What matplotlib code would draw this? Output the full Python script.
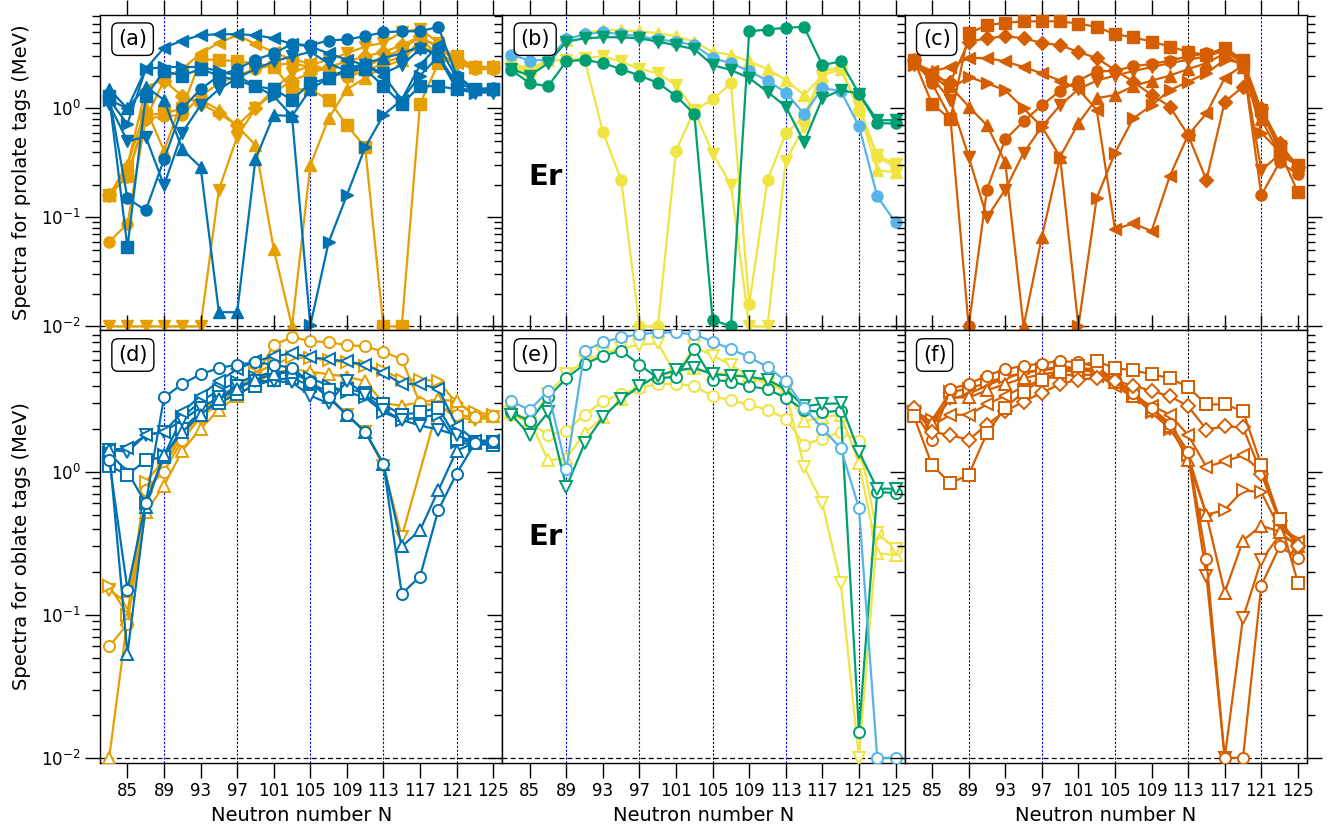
import numpy as np
import matplotlib
matplotlib.use("Agg")
import matplotlib.pyplot as plt
from matplotlib.ticker import LogLocator, NullFormatter

# ---------------- data ----------------
N = list(range(83, 126, 2))
xtick_vals = [85, 89, 93, 97, 101, 105, 109, 113, 117, 121, 125]
vlines = [89, 97, 105, 113, 121]
black_vline = {"a": 97, "b": 105, "c": 113}
nan = float("nan")

# panel (a): prolate tags, blue and orange groups
a_blue_o = [1.3, 0.15, 0.116, 0.34, 1.0, 1.5, 2.0, 2.3, 2.8, 3.2, 3.9, 3.8, 4.2, 4.3, 4.6, 5.0, 5.1, 5.1, 5.6, 2.0, 1.5, 1.55]
a_blue_lt = [1.2, 1.0, 2.3, 3.6, 4.2, 4.7, 4.8, 4.8, 4.7, 4.4, 3.9, 3.7, 3.2, 2.8, 2.5, 2.0, 1.2, 2.5, 3.8, 1.9, 1.5, 1.5]
a_blue_up = [1.5, 1.0, 1.58, 1.2, 0.42, 0.29, 0.0135, 0.0135, 0.34, 0.87, 0.85, 1.5, 1.9, 2.3, 2.6, 2.9, 3.2, 3.7, 3.0, 1.7, 1.5, 1.5]
a_blue_rt = [1.2, 0.72, 2.3, 2.4, 2.4, 2.4, 2.2, 2.0, 1.6, 1.3, 0.85, 0.0102, 0.059, 0.16, 0.44, 0.87, 1.2, 2.0, 3.0, 1.5, 1.4, 1.5]
a_blue_dn = [1.1, 0.5, 0.55, 0.197, 0.6, 1.07, 1.5, 1.9, 2.3, 2.7, 3.0, 3.3, 2.6, 2.2, 2.5, 2.1, 2.5, 3.5, 3.2, 1.5, 1.4, 1.4]
a_blue_s = [1.3, 0.053, 1.3, 2.2, 2.0, 2.3, 2.0, 1.8, 1.6, 1.5, 1.2, 1.7, 1.9, 2.2, 2.3, 1.6, 1.1, 1.6, 1.6, 1.5, 1.5, 1.5]
a_orng_dn = [0.01, 0.01, 0.01, 0.01, 0.01, 0.01, 0.18, 0.55, 1.0, 1.5, 2.1, 2.5, 2.8, 3.2, 3.7, 4.0, 5.0, 5.4, 4.0, 2.8, 2.3, 2.3]
a_orng_lt = [0.16, 0.3, 1.5, 1.9, 2.3, 3.2, 4.0, 4.7, 3.9, 3.3, 2.8, 2.6, 2.2, 2.0, 2.4, 2.9, 3.5, 4.5, 3.0, 2.6, 2.4, 2.4]
a_orng_s = [0.16, 0.24, 0.87, 0.9, 1.0, 2.8, 2.8, 2.7, 2.6, 2.4, 1.5, 1.5, 1.2, 0.7, 0.44, 0.01, 0.01, 1.1, 2.6, 3.0, 2.4, 2.4]
a_orng_up = [0.16, 0.3, 1.0, 0.41, 1.2, 1.2, 0.97, 0.69, 0.46, 0.051, 0.01, 0.30, 0.81, 1.5, 1.9, 2.4, 2.8, 4.2, 3.9, 2.8, 2.4, 2.4]
a_orng_o = [0.06, 0.087, 0.8, 0.85, 0.87, 1.3, 1.7, 2.0, 2.3, 2.5, 2.6, 2.4, 2.2, 1.95, 2.2, 2.6, 3.0, 3.7, 3.2, 2.6, 2.3, 2.3]
a_orng_D = [0.16, 0.24, 0.8, 1.8, 1.3, 1.1, 0.9, 0.7, 1.0, 1.4, 1.8, 2.1, 2.4, 2.7, 3.0, 3.3, 3.8, 4.6, 3.6, 2.7, 2.4, 2.4]

# panel (b): prolate tags, green / sky blue / yellow groups
b_green_o = [2.25, 1.7, 1.6, 2.7, 2.8, 2.6, 2.3, 2.0, 1.72, 1.3, 0.89, 0.0115, 0.01, 5.1, 5.3, 5.5, 5.6, 2.5, 2.7, 1.37, 0.73, 0.73]
b_green_dn = [2.3, 2.0, 2.6, 4.1, 4.4, 4.5, 4.5, 4.4, 4.1, 3.8, 3.5, 2.5, 2.25, 1.9, 1.42, 1.04, 0.49, 1.24, 1.47, 1.37, 0.78, 0.78]
b_sky_o = [3.1, 2.75, 2.8, 4.3, 4.8, 5.0, 4.8, 4.6, 4.3, 4.1, 3.8, 2.9, 2.6, 2.2, 1.8, 1.4, 0.89, 1.53, 1.45, 0.69, 0.156, 0.09]
b_yel_up = [2.6, 2.3, 2.8, 4.25, 4.9, 5.3, 5.2, 5.1, 4.9, 4.6, 4.1, 3.3, 3.1, 2.7, 2.3, 1.82, 1.33, 2.0, 2.3, 0.97, 0.27, 0.26]
b_yel_dn = [2.5, 2.2, 2.8, 2.8, 2.9, 3.0, 2.7, 2.3, 2.1, 1.64, 0.96, 0.385, 0.2, 0.01, 0.01, 0.33, 0.68, 2.25, 2.3, 1.04, 0.37, 0.31]
b_yel_o = [2.4, 2.1, 2.8, 2.7, 2.8, 0.61, 0.22, 0.01, 0.01, 0.41, 0.96, 1.21, 1.7, 0.016, 0.22, 0.59, 0.84, 2.2, 2.4, 0.97, 0.36, 0.29]

# panel (c): prolate tags, vermillion group
c_s = [2.8, 1.1, 0.8, 4.9, 5.8, 6.1, 6.3, 6.3, 6.3, 6.0, 5.6, 4.8, 4.5, 4.1, 3.7, 3.3, 3.1, 3.6, 2.8, 0.97, 0.41, 0.17]
c_D = [2.8, 1.95, 1.76, 4.1, 4.4, 4.6, 4.4, 4.0, 3.8, 3.3, 2.9, 2.25, 1.76, 1.33, 1.04, 0.57, 0.22, 1.15, 1.58, 1.0, 0.48, 0.29]
c_o = [2.8, 1.7, 0.82, 0.01, 0.18, 0.52, 0.76, 1.07, 1.45, 1.8, 2.2, 2.2, 2.45, 2.55, 2.75, 3.0, 3.2, 3.5, 2.7, 0.16, 0.32, 0.25]
c_up = [2.6, 2.2, 1.6, 1.04, 0.70, 0.32, 0.01, 0.066, 0.36, 0.73, 1.24, 1.33, 1.6, 1.8, 2.0, 2.3, 2.6, 3.2, 2.4, 0.8, 0.38, 0.3]
c_dn = [2.5, 1.9, 1.2, 0.36, 0.10, 0.18, 0.39, 0.68, 1.07, 1.5, 1.8, 2.0, 2.2, 2.4, 2.6, 2.8, 3.0, 3.4, 2.6, 0.27, 0.38, 0.3]
c_lt = [2.6, 2.2, 2.4, 2.9, 2.9, 2.7, 2.4, 2.1, 1.8, 1.5, 0.97, 0.078, 0.088, 0.075, 0.24, 0.57, 0.9, 1.9, 2.5, 0.9, 0.45, 0.3]
c_rt = [2.5, 2.0, 1.5, 1.95, 1.7, 1.47, 1.0, 0.68, 0.36, 0.01, 0.15, 0.39, 0.81, 1.07, 1.47, 1.76, 2.1, 2.8, 2.6, 0.6, 0.4, 0.3]

# panel (d): oblate tags, blue and orange groups
d_blue_o = [1.21, 0.15, 0.6, 3.3, 4.1, 4.8, 5.3, 5.6, 5.8, 5.6, 5.3, 4.2, 3.3, 2.5, 1.9, 1.13, 0.14, 0.185, 0.54, 0.97, 1.58, 1.63]
d_blue_up = [1.42, 0.053, 0.57, 1.3, 1.9, 2.5, 3.2, 3.8, 4.4, 4.8, 5.0, 4.2, 3.3, 2.5, 1.9, 1.13, 0.30, 0.39, 0.74, 1.4, 1.6, 1.6]
d_blue_lt = [1.42, 1.46, 1.8, 1.9, 2.6, 3.4, 4.3, 5.2, 5.9, 6.4, 6.7, 6.3, 6.1, 5.9, 5.6, 4.9, 4.1, 4.1, 3.8, 2.1, 1.65, 1.65]
d_blue_dn = [1.42, 1.38, 1.8, 1.9, 2.3, 2.8, 3.3, 3.96, 4.3, 4.3, 4.2, 3.4, 3.0, 4.3, 3.46, 2.7, 2.3, 2.1, 1.97, 1.8, 1.6, 1.6]
d_blue_s = [1.1, 0.95, 1.2, 1.27, 2.0, 2.6, 3.0, 3.5, 4.0, 4.4, 4.5, 4.0, 3.7, 3.8, 3.55, 2.95, 2.5, 2.6, 2.8, 1.7, 1.58, 1.54]
d_blue_rt = [1.35, 1.0, 0.6, 1.3, 2.4, 3.1, 3.7, 4.2, 4.6, 5.0, 4.9, 4.5, 4.0, 3.6, 3.3, 2.6, 2.3, 2.4, 2.5, 1.6, 1.55, 1.55]
d_orng_o = [0.06, 0.086, 0.75, 1.0, 1.67, 2.4, 3.0, 3.7, 4.6, 7.7, 8.7, 8.2, 8.0, 7.7, 7.5, 6.9, 6.1, 3.0, 2.9, 2.5, 2.4, 2.45]
d_orng_up = [0.01, 0.093, 0.52, 0.8, 1.4, 2.0, 2.7, 3.4, 4.2, 4.9, 5.2, 5.0, 4.8, 4.6, 4.3, 3.0, 2.9, 3.05, 3.2, 3.1, 2.45, 2.45]
d_orng_rt = [0.16, 0.1, 0.85, 1.2, 1.9, 2.6, 3.3, 4.0, 4.9, 5.6, 6.3, 6.2, 6.0, 5.8, 5.5, 5.1, 4.4, 4.4, 4.3, 3.0, 2.6, 2.5]
d_orng_dn = [0.15, 0.12, 0.7, 1.1, 1.8, 2.5, 3.2, 3.9, 4.5, 4.9, 5.0, 4.4, 3.4, 2.5, 1.9, 1.1, 0.35, nan, 2.9, 2.4, 2.3, 2.4]

# panel (e): oblate tags, green / sky blue / yellow groups
e_sky_o = [3.1, 2.7, 3.65, 1.05, 7.0, 8.0, 8.7, 9.1, 9.4, 9.4, 9.1, 8.1, 7.2, 6.3, 5.4, 4.3, 2.8, 2.0, 1.46, 0.56, 0.01, 0.01]
e_green_dn = [2.5, 1.8, 2.6, 0.78, 1.58, 2.4, 3.2, 3.95, 4.7, 5.1, 5.3, 4.8, 4.7, 4.6, 4.4, 3.76, 2.86, 2.98, 3.0, 1.38, 0.76, 0.76]
e_green_o = [2.6, 2.25, 3.3, 4.5, 5.65, 6.45, 7.0, 5.6, 4.5, 4.6, 7.2, 4.4, 4.25, 3.97, 3.76, 3.28, 2.7, 2.6, 2.67, 0.0152, 0.72, 0.71]
e_yel_dn = [2.6, 2.2, 3.5, 4.8, 5.95, 6.7, 7.3, 7.7, 7.9, 4.75, 7.5, 6.45, 5.6, 4.6, 4.1, 3.65, 1.08, 0.6, 0.168, 0.01, 0.37, 0.29]
e_yel_o = [2.5, 2.2, 1.8, 1.93, 2.5, 3.1, 3.5, 3.86, 4.1, 4.1, 3.97, 3.37, 3.15, 2.95, 2.7, 2.35, 1.54, 1.7, 1.9, 1.64, 0.37, 0.29]
e_yel_up = [2.6, 2.3, 1.2, 1.24, 1.86, 2.4, 3.2, 3.95, 4.7, 5.0, 5.3, 4.9, 4.8, 4.7, 4.2, 3.76, 2.25, 2.4, 2.5, 1.15, 0.27, 0.26]

# panel (f): oblate tags, vermillion group
f_s = [2.44, 1.11, 0.83, 0.95, 1.86, 2.8, 3.6, 4.4, 5.0, 5.5, 5.9, 5.3, 5.1, 4.8, 4.5, 3.9, 2.95, 2.95, 2.65, 1.11, 0.47, 0.168]
f_D = [2.8, 1.9, 1.8, 1.67, 2.13, 2.65, 3.08, 3.56, 4.1, 4.4, 4.5, 4.3, 4.0, 3.66, 3.37, 2.87, 1.97, 2.07, 2.04, 0.97, 0.45, 0.3]
f_o = [2.67, 1.67, 3.8, 4.1, 4.7, 5.2, 5.5, 5.7, 5.95, 5.8, 5.4, 4.35, 3.56, 2.8, 2.17, 1.38, 0.245, 0.01, 0.01, 0.16, 0.30, 0.25]
f_up = [2.7, 2.2, 3.3, 3.3, 3.7, 4.1, 4.5, 4.8, 5.0, 5.1, 5.0, 4.2, 3.4, 2.7, 2.1, 1.2, 0.5, 0.143, 0.33, 0.42, 0.38, 0.3]
f_lt = [2.6, 2.1, 2.5, 2.5, 2.95, 3.4, 3.9, 4.4, 4.7, 4.8, 4.7, 4.0, 3.3, 2.9, 2.5, 1.8, 1.08, 1.18, 1.3, 1.0, 0.45, 0.32]
f_rt = [2.6, 2.3, 3.6, 3.8, 4.2, 4.6, 4.9, 5.2, 5.4, 5.3, 5.2, 4.5, 3.5, 2.6, 2.0, 1.3, 0.5, 0.54, 0.74, 0.72, 0.4, 0.33]
f_dn = [2.6, 2.2, 3.2, 3.5, 4.0, 4.5, 4.9, 5.1, 5.3, 5.2, 5.1, 4.3, 3.4, 2.6, 2.0, 1.3, 0.187, 0.01, 0.095, 0.24, 0.36, 0.31]

# ---------------- styles ----------------
BLUE = "#0072B2"
ORNG = "#E69F00"
GREEN = "#009E73"
SKY = "#56B4E9"
YEL = "#F0E442"
VERM = "#D55E00"

panels = {
    "a": [(a_orng_D, ORNG, "D"), (a_orng_o, ORNG, "o"), (a_orng_up, ORNG, "^"),
          (a_orng_s, ORNG, "s"), (a_orng_lt, ORNG, "<"), (a_orng_dn, ORNG, "v"),
          (a_blue_s, BLUE, "s"), (a_blue_dn, BLUE, "v"), (a_blue_rt, BLUE, ">"),
          (a_blue_up, BLUE, "^"), (a_blue_lt, BLUE, "<"), (a_blue_o, BLUE, "o")],
    "b": [(b_yel_o, YEL, "o"), (b_yel_dn, YEL, "v"), (b_yel_up, YEL, "^"),
          (b_sky_o, SKY, "o"), (b_green_dn, GREEN, "v"), (b_green_o, GREEN, "o")],
    "c": [(c_rt, VERM, ">"), (c_lt, VERM, "<"), (c_dn, VERM, "v"), (c_up, VERM, "^"),
          (c_o, VERM, "o"), (c_D, VERM, "D"), (c_s, VERM, "s")],
    "d": [(d_orng_dn, ORNG, "v"), (d_orng_rt, ORNG, ">"), (d_orng_up, ORNG, "^"),
          (d_orng_o, ORNG, "o"), (d_blue_rt, BLUE, ">"), (d_blue_s, BLUE, "s"),
          (d_blue_dn, BLUE, "v"), (d_blue_lt, BLUE, "<"), (d_blue_up, BLUE, "^"),
          (d_blue_o, BLUE, "o")],
    "e": [(e_yel_up, YEL, "^"), (e_yel_o, YEL, "o"), (e_yel_dn, YEL, "v"),
          (e_green_o, GREEN, "o"), (e_green_dn, GREEN, "v"), (e_sky_o, SKY, "o")],
    "f": [(f_dn, VERM, "v"), (f_rt, VERM, ">"), (f_lt, VERM, "<"), (f_up, VERM, "^"),
          (f_o, VERM, "o"), (f_D, VERM, "D"), (f_s, VERM, "s")],
}

fig = plt.figure(figsize=(13.38, 8.31), dpi=100)
gs = fig.add_gridspec(2, 3, left=100 / 1338, right=1307 / 1338,
                      top=1 - 15 / 831, bottom=1 - 763 / 831,
                      height_ratios=[314, 432], hspace=0, wspace=0)

order = [["a", "b", "c"], ["d", "e", "f"]]
col_black = [black_vline["a"], black_vline["b"], black_vline["c"]]
Narr = np.array(N, dtype=float)

for r in range(2):
    for cidx in range(3):
        key = order[r][cidx]
        ax = fig.add_subplot(gs[r, cidx])
        ax.set_yscale("log")
        ax.set_xlim(82, 126)
        if r == 0:
            ax.set_ylim(0.0093, 7.2)
        else:
            ax.set_ylim(0.0092, 9.8)
        for v in vlines:
            col = "black" if v == col_black[cidx] else "#0000FF"
            ax.axvline(v, color=col, lw=0.8, ls=(0, (2, 1.5)), zorder=1)
        ax.axhline(0.01, color="black", lw=0.9, ls=(0, (4, 2.5)), zorder=1)

        filled = (r == 0)
        for vals, col, mk in panels[key]:
            y = np.array(vals, dtype=float)
            ok = np.isfinite(y)
            ms = 8 if mk != "D" else 7
            if filled:
                ax.plot(Narr[ok], y[ok], marker=mk, color=col, mfc=col, mec=col,
                        ms=ms, lw=1.6, zorder=3)
            else:
                ax.plot(Narr[ok], y[ok], marker=mk, color=col, mfc="white", mec=col,
                        mew=1.4, ms=ms, lw=1.6, zorder=3)

        ax.set_xticks(xtick_vals)
        ax.yaxis.set_major_locator(LogLocator(base=10, numticks=10))
        ax.yaxis.set_minor_locator(LogLocator(base=10, subs=np.arange(2, 10), numticks=10))
        ax.yaxis.set_minor_formatter(NullFormatter())
        ax.tick_params(which="both", direction="out", top=True, right=True,
                       labelsize=12, width=1.0)
        ax.tick_params(which="major", length=10.5)
        ax.tick_params(which="minor", length=5.5)
        if r == 0:
            ax.tick_params(labelbottom=False)
        else:
            ax.set_xlabel("Neutron number N", fontsize=14, labelpad=4)
        if cidx != 0:
            ax.tick_params(labelleft=False)
        for sp in ax.spines.values():
            sp.set_linewidth(1.0)

        ax.text(0.045, 0.955 if r == 0 else 0.965, "(" + key + ")",
                transform=ax.transAxes, fontsize=15, ha="left", va="top",
                bbox=dict(boxstyle="round,pad=0.3", fc="white", ec="black", lw=1.0),
                zorder=10)
        if key == "b":
            ax.text(0.065, 0.484, "Er", transform=ax.transAxes, fontsize=21,
                    fontweight="bold", ha="left", va="center")
        if key == "e":
            ax.text(0.065, 0.522, "Er", transform=ax.transAxes, fontsize=21,
                    fontweight="bold", ha="left", va="center")
        if key == "a":
            ax.set_ylabel("Spectra for prolate tags (MeV)", fontsize=14, labelpad=7)
        if key == "d":
            ax.set_ylabel("Spectra for oblate tags (MeV)", fontsize=14, labelpad=7)

fig.savefig("out.png", dpi=100)
